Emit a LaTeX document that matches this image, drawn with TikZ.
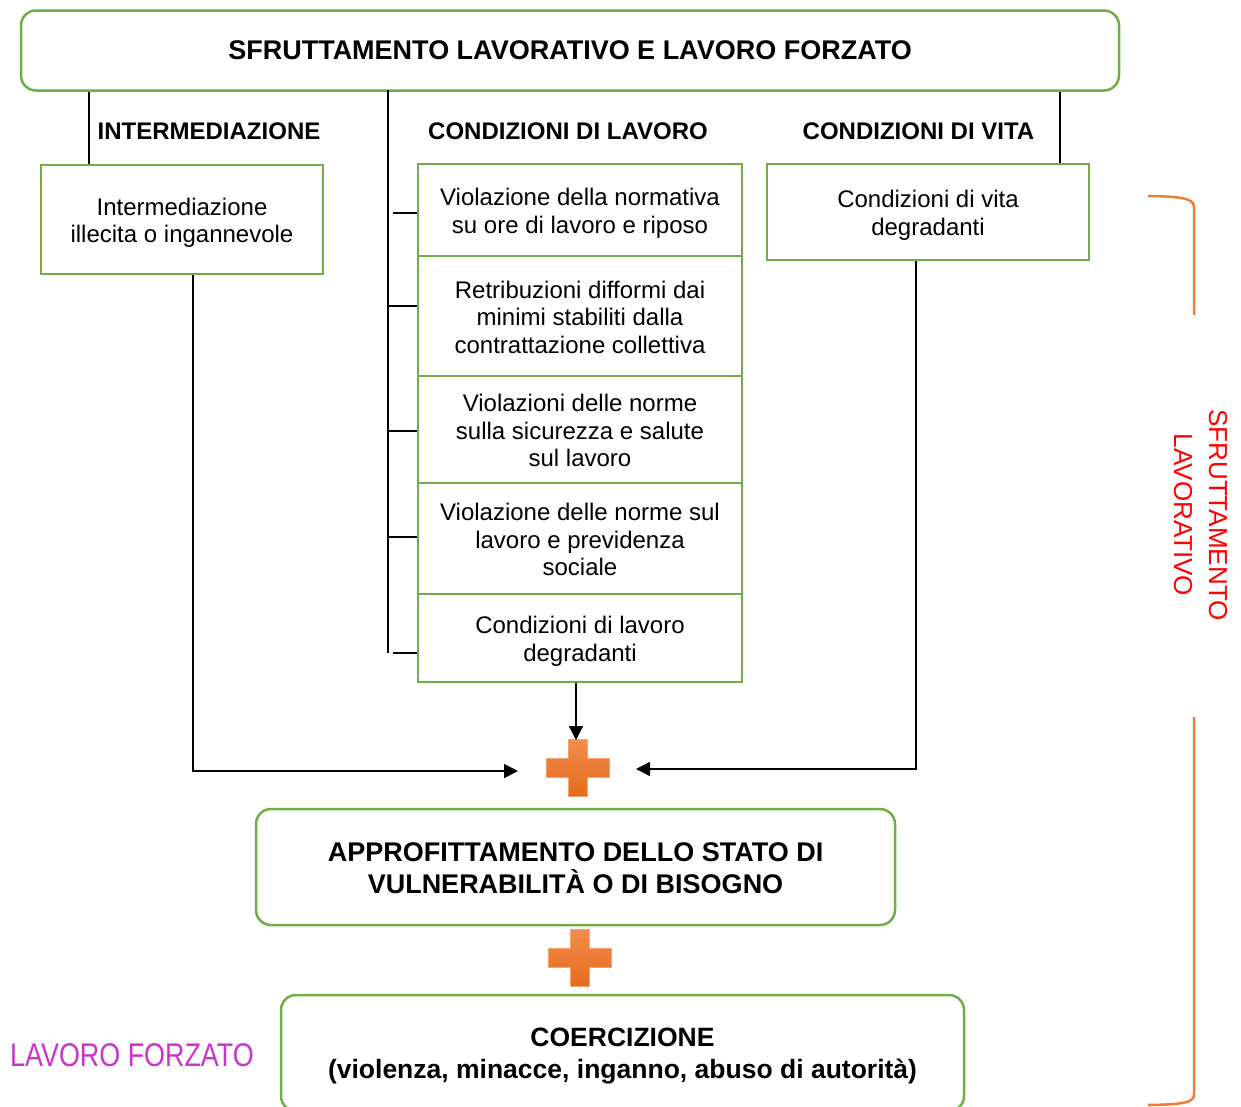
\documentclass[tikz,border=0pt]{standalone}
\usepackage{fontspec}
\setmainfont{Liberation Sans}
\newfontfamily\narrowfont[FakeStretch=0.82]{Liberation Sans}
\usetikzlibrary{arrows.meta,calc}
\definecolor{boxgreen}{RGB}{112,173,71}
\definecolor{braceorange}{RGB}{237,125,49}
\definecolor{plustop}{RGB}{244,140,78}
\definecolor{plusbot}{RGB}{228,108,28}
\definecolor{forzmag}{RGB}{204,51,204}
\newcommand\mytstrut[1]{\rule{0pt}{#1}}
\newcommand\mybstrut[1]{\rule[-#1]{0pt}{#1}}
\newcommand\ts{\mytstrut{24.7pt}}
\newcommand\bs{\mybstrut{5.5pt}}
\tikzset{
  gbox/.style={draw=boxgreen, line width=2.5pt, inner sep=0pt, align=center,
               font=\fontsize{24}{27.5}\selectfont},
  rbox/.style={draw=boxgreen, line width=2.5pt, inner sep=0pt, align=center,
               rounded corners=15pt},
  hdr/.style={inner sep=0pt, font=\bfseries\fontsize{24}{28}\selectfont},
  conn/.style={line width=1.5pt},
  arr/.style={conn, -{Triangle[length=14pt,width=14pt]}},
  brace/.style={draw=braceorange, line width=2.5pt},
  plus/.pic={
    \path[top color=plustop, bottom color=plusbot, draw=plustop!80!white, line width=0.6pt]
      (-9.5,-28.5) -- (9.5,-28.5) -- (9.5,-9.5) -- (31.5,-9.5) -- (31.5,9.5)
      -- (9.5,9.5) -- (9.5,28.5) -- (-9.5,28.5) -- (-9.5,9.5) -- (-31.5,9.5)
      -- (-31.5,-9.5) -- (-9.5,-9.5) -- cycle;
  }
}
\begin{document}
\begin{tikzpicture}[x=1pt,y=-1pt]
\useasboundingbox (0,0) rectangle (1241,1106);

% top box
\node[rbox, minimum width=1098pt, minimum height=80pt,
      font=\bfseries\fontsize{27}{30}\selectfont] (top) at (570,50.5)
  {SFRUTTAMENTO LAVORATIVO E LAVORO FORZATO};

% headers
\node[hdr] (h1) at (209,131) {INTERMEDIAZIONE};
\node[hdr] (h2) at (568,131) {CONDIZIONI DI LAVORO};
\node[hdr] (h3) at (918.5,131) {CONDIZIONI DI VITA};

% intermediazione box
\node[gbox, minimum width=282pt, minimum height=109pt] (inter) at (182,219.5)
  {\ts Intermediazione\\illecita o ingannevole\bs};

% condizioni di lavoro column
\node[gbox, minimum width=324pt, minimum height=92pt] (l1) at (580,210)
  {\ts Violazione della normativa\\su ore di lavoro e riposo\bs};
\node[gbox, minimum width=324pt, minimum height=120pt] (l2) at (580,316)
  {\ts Retribuzioni difformi dai\\minimi stabiliti dalla\\contrattazione collettiva\bs};
\node[gbox, minimum width=324pt, minimum height=107pt] (l3) at (580,429.5)
  {\ts Violazioni delle norme\\sulla sicurezza e salute\\sul lavoro\bs};
\node[gbox, minimum width=324pt, minimum height=111pt] (l4) at (580,538.5)
  {\ts Violazione delle norme sul\\lavoro e previdenza\\sociale\bs};
\node[gbox, minimum width=324pt, minimum height=88pt] (l5) at (580,638)
  {\ts Condizioni di lavoro\\degradanti\bs};

% condizioni di vita
\node[gbox, minimum width=322pt, minimum height=96pt] (vita) at (928,212)
  {\ts Condizioni di vita\\degradanti\bs};

% lower boxes
\node[rbox, minimum width=639pt, minimum height=116pt,
      font=\bfseries\fontsize{27}{32}\selectfont] (appro) at (575.5,867)
  {\mytstrut{27pt}APPROFITTAMENTO DELLO STATO DI\\VULNERABILITÀ O DI BISOGNO\mybstrut{6pt}};
\node[rbox, minimum width=683pt, minimum height=116pt,
      font=\bfseries\fontsize{26.5}{32}\selectfont] (coerc) at (622.5,1053)
  {\mytstrut{25pt}COERCIZIONE\\(violenza, minacce, inganno, abuso di autorità)};

% side labels
\node[inner sep=0pt, text=forzmag, font=\narrowfont\fontsize{32.8}{36}\selectfont]
  (forz) at (132,1055) {LAVORO FORZATO};
\node[inner sep=0pt, rotate=-90, align=center, text=red,
      font=\fontsize{26}{35}\selectfont] (sfl) at (1200.5,515)
  {SFRUTTAMENTO\\LAVORATIVO};

% plus signs
\coordinate (plusA) at (577.5,767.5);
\coordinate (plusB) at (579.5,958);
\pic at (plusA) {plus};
\pic at (plusB) {plus};

% connectors from top box
\draw[conn] (top.south -| 89,0) -- (inter.north -| 89,0);
\draw[conn] (top.south -| 1060,0) -- (vita.north -| 1060,0);
\coordinate (vtop) at (388,90);
\coordinate (vbot) at (388,653);
\draw[conn] (vtop) -- (vbot);
\draw[conn] (l1.west |- 0,213) -- (393,213);
\draw[conn] (l2.west |- 0,306) -- (388,306);
\draw[conn] (l3.west |- 0,431) -- (388,431);
\draw[conn] (l4.west |- 0,537) -- (388,537);
\draw[conn] (l5.west |- 0,653) -- (393,653);

% arrows to plus
\coordinate (aR) at (518,771);
\coordinate (aL) at (636,769);
\coordinate (aD) at (576,740);
\draw[arr] ([xshift=11pt]inter.south) |- (aR);
\draw[arr] ([xshift=-12pt]vita.south) |- (aL);
\draw[arr] ([xshift=-4pt]l5.south) -- (aD);

% orange braces
\draw[brace] (1148,196) .. controls (1180,196.5) and (1194,198) .. (1194,207) -- (1194,315);
\draw[brace] (1194,717) -- (1194,1095) .. controls (1194,1103) and (1180,1104.5) .. (1148,1105);
\end{tikzpicture}
\end{document}
